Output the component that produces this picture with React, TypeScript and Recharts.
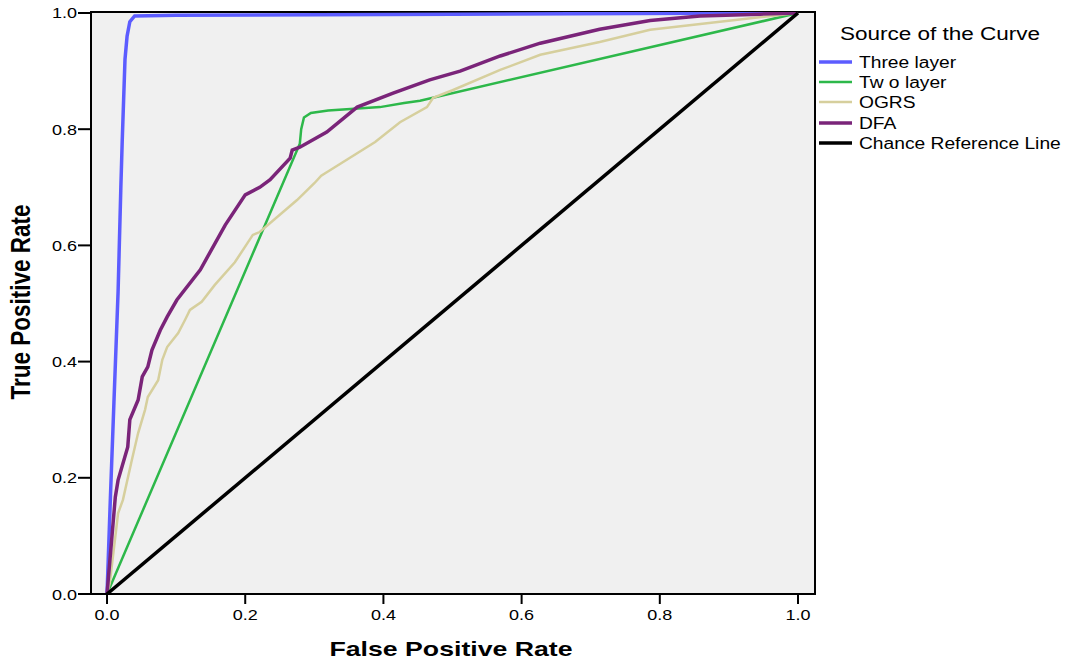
import { LineChart, Line, XAxis, YAxis, ReferenceArea, Legend } from "recharts";

// ROC points, [false positive rate, true positive rate]
const threeLayer: [number, number][] = [
  [0, 0], [0.005, 0.17], [0.01, 0.33], [0.016, 0.52], [0.02, 0.7], [0.022, 0.78],
  [0.024, 0.85], [0.026, 0.92], [0.029, 0.96], [0.033, 0.985], [0.04, 0.995],
  [0.1, 0.996], [0.5, 0.998], [1, 1],
];

const twoLayer: [number, number][] = [
  [0, 0], [0.279, 0.775], [0.281, 0.8], [0.285, 0.82], [0.295, 0.828],
  [0.32, 0.832], [0.395, 0.838], [0.43, 0.845], [0.453, 0.849], [1, 1],
];

const ogrs: [number, number][] = [
  [0, 0], [0.004, 0.019], [0.016, 0.139], [0.023, 0.162], [0.036, 0.231],
  [0.045, 0.277], [0.055, 0.317], [0.059, 0.339], [0.074, 0.368], [0.08, 0.403],
  [0.087, 0.425], [0.103, 0.449], [0.113, 0.472], [0.12, 0.489], [0.137, 0.503],
  [0.156, 0.532], [0.185, 0.571], [0.211, 0.618], [0.221, 0.623], [0.275, 0.678],
  [0.3, 0.707], [0.31, 0.72], [0.318, 0.726], [0.388, 0.778], [0.424, 0.812],
  [0.463, 0.838], [0.472, 0.854], [0.5, 0.867], [0.569, 0.902], [0.627, 0.928],
  [0.713, 0.95], [0.786, 0.971], [0.887, 0.985], [1, 1],
];

const dfa: [number, number][] = [
  [0, 0], [0.012, 0.167], [0.016, 0.196], [0.03, 0.253], [0.033, 0.3],
  [0.045, 0.334], [0.051, 0.374], [0.059, 0.391], [0.065, 0.42], [0.077, 0.454],
  [0.087, 0.477], [0.101, 0.506], [0.135, 0.558], [0.171, 0.635], [0.2, 0.687],
  [0.221, 0.7], [0.236, 0.713], [0.265, 0.75], [0.268, 0.764], [0.279, 0.769],
  [0.318, 0.795], [0.362, 0.838], [0.414, 0.862], [0.467, 0.885], [0.511, 0.9],
  [0.569, 0.926], [0.627, 0.948], [0.713, 0.972], [0.786, 0.987], [0.858, 0.995],
  [0.945, 0.998], [1, 1],
];

const chance: [number, number][] = [[0, 0], [1, 1]];

const RATE_TICKS = [0, 0.2, 0.4, 0.6, 0.8, 1.0];

const X_DOMAIN: [number, number] = [-0.0232, 1.0246];
const Y_DOMAIN: [number, number] = [0, 1.0017];

const FONT = '"Liberation Sans", Arial, sans-serif';
const STRETCH = 1.2;

const SERIES = [
  { name: "Three layer", points: threeLayer, color: "#5c5cff", width: 3.5 },
  { name: "Tw o layer", points: twoLayer, color: "#2db84a", width: 2.5 },
  { name: "OGRS", points: ogrs, color: "#d6cf9d", width: 2.5 },
  { name: "DFA", points: dfa, color: "#7a2479", width: 3.5 },
  { name: "Chance Reference Line", points: chance, color: "#000000", width: 3.5 },
];

const toRows = (pts: [number, number][]) => pts.map(([x, y]) => ({ x, y }));

function XTick({ x, y, payload }: any) {
  return (
    <g transform={`translate(${x},${y})`}>
      <text transform={`scale(${STRETCH},1)`} textAnchor="middle" dy={14} fontSize={15} fontFamily={FONT} fill="#000">
        {payload.value.toFixed(1)}
      </text>
    </g>
  );
}

function YTick({ x, y, payload }: any) {
  return (
    <g transform={`translate(${x},${y})`}>
      <text transform={`scale(${STRETCH},1)`} textAnchor="end" dy={5.5} fontSize={15} fontFamily={FONT} fill="#000">
        {payload.value.toFixed(1)}
      </text>
    </g>
  );
}

function XTitle({ viewBox }: any) {
  const cx = viewBox.x + viewBox.width / 2;
  return (
    <g transform={`translate(${cx - 2},${viewBox.y + 62})`}>
      <text transform="scale(1.27,1)" textAnchor="middle" fontSize={21} fontWeight="bold" fontFamily={FONT} fill="#000">
        False Positive Rate
      </text>
    </g>
  );
}

function YTitle({ viewBox }: any) {
  const cy = viewBox.y + viewBox.height / 2;
  return (
    <g transform={`translate(${30},${cy - 1}) scale(${STRETCH},1) rotate(-90)`}>
      <text textAnchor="middle" fontSize={22.5} fontWeight="bold" fontFamily={FONT} fill="#000">
        True Positive Rate
      </text>
    </g>
  );
}

function CurveLegend() {
  return (
    <div style={{ position: "relative", width: 250, height: 160, fontFamily: FONT }}>
      <div
        style={{
          position: "absolute",
          left: 21,
          top: 13,
          fontSize: 18,
          lineHeight: "22px",
          whiteSpace: "nowrap",
          transform: "scaleX(1.25)",
          transformOrigin: "left center",
        }}
      >
        Source of the Curve
      </div>
      {SERIES.map((s, i) => (
        <div key={s.name} style={{ position: "absolute", left: 0, top: 42 + i * 20.2, height: 20, whiteSpace: "nowrap" }}>
          <svg width={34} height={20} style={{ position: "absolute", left: 0, top: 0 }}>
            <line x1={0} x2={33} y1={10} y2={10} stroke={s.color} strokeWidth={s.width} />
          </svg>
          <span
            style={{
              position: "absolute",
              left: 40,
              top: 1,
              fontSize: 16,
              lineHeight: "20px",
              transform: `scaleX(${STRETCH})`,
              transformOrigin: "left center",
            }}
          >
            {s.name}
          </span>
        </div>
      ))}
    </div>
  );
}

export default function App() {
  return (
    <div style={{ width: 1071, height: 662, background: "#fff" }}>
      <style>{"body{margin:0}"}</style>
      <LineChart width={1071} height={662} margin={{ top: 12, right: 256, bottom: 0, left: 0 }}>
        <XAxis
          type="number"
          dataKey="x"
          domain={X_DOMAIN}
          ticks={RATE_TICKS}
          allowDataOverflow
          height={68}
          tickSize={10}
          tickMargin={2}
          axisLine={{ stroke: "#000", strokeWidth: 2 }}
          tickLine={{ stroke: "#000", strokeWidth: 2 }}
          tick={<XTick />}
          label={{ content: <XTitle /> }}
        />
        <YAxis
          type="number"
          dataKey="y"
          domain={Y_DOMAIN}
          ticks={RATE_TICKS}
          allowDataOverflow
          width={91}
          tickSize={13}
          tickMargin={1}
          axisLine={{ stroke: "#000", strokeWidth: 2 }}
          tickLine={{ stroke: "#000", strokeWidth: 2 }}
          tick={<YTick />}
          label={{ content: <YTitle /> }}
        />
        <ReferenceArea
          x1={X_DOMAIN[0]}
          x2={X_DOMAIN[1]}
          y1={Y_DOMAIN[0]}
          y2={Y_DOMAIN[1]}
          fill="#f0f0f0"
          fillOpacity={1}
          stroke="#000"
          strokeWidth={2}
        />
        {SERIES.map((s) => (
          <Line
            key={s.name}
            data={toRows(s.points)}
            dataKey="y"
            name={s.name}
            type="linear"
            stroke={s.color}
            strokeWidth={s.width}
            dot={false}
            activeDot={false}
            isAnimationActive={false}
          />
        ))}
        <Legend
          layout="vertical"
          align="center"
          verticalAlign="middle"
          content={<CurveLegend />}
          wrapperStyle={{ left: 819, top: 10, width: 250, height: 160 }}
        />
      </LineChart>
    </div>
  );
}
